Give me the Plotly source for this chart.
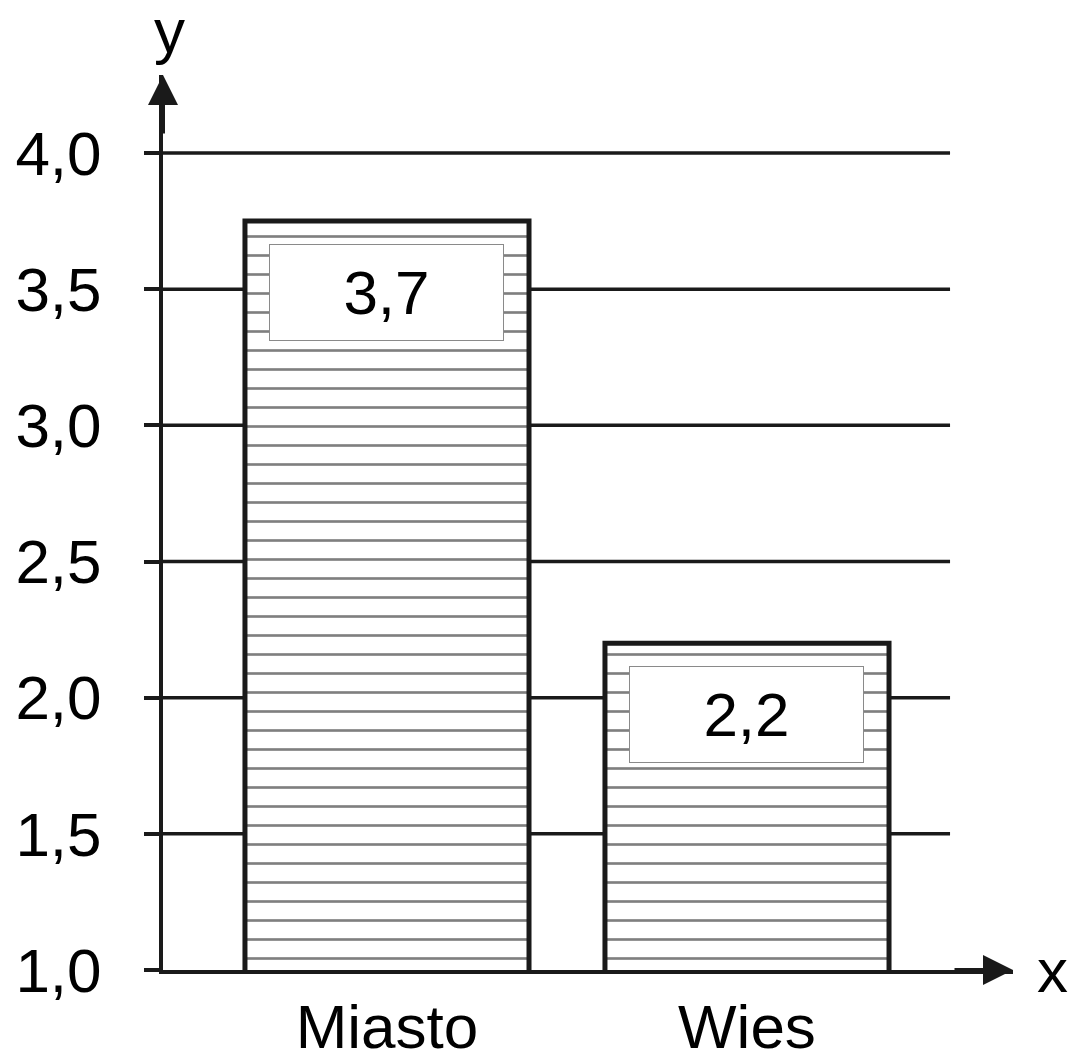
import plotly.graph_objects as go

categories = ["Miasto", "Wies"]
values = [3.75, 2.2]
value_labels = ["3,7", "2,2"]
y_ticks = [1.0, 1.5, 2.0, 2.5, 3.0, 3.5, 4.0]

FONT = "Liberation Sans, Arial, sans-serif"
FS = 62
W, H = 1072, 1056
L, R, T, B = 163, 1072 - 1013, 75, 1056 - 970

fig = go.Figure()
fig.add_trace(go.Bar(
    x=categories, y=values, width=0.789,
    marker=dict(color="white", line=dict(color="#1a1a1a", width=5),
                pattern=dict(shape="-", fgcolor="black", bgcolor="white",
                             size=19, solidity=0.14)),
    showlegend=False, hoverinfo="skip",
))

# horizontal grid lines (end before arrow)
shapes = []
for t in y_ticks[1:]:
    shapes.append(dict(type="line", xref="x", yref="y", x0=-0.6222, x1=1.564,
                       y0=t, y1=t, line=dict(color="#1a1a1a", width=3.5), layer="below"))

annotations = []
for c, v, lab in zip(categories, values, value_labels):
    annotations.append(dict(x=c, y=v, xref="x", yref="y", text=lab, showarrow=False,
                            yanchor="top", xanchor="center", yshift=-23,
                            width=233, height=95, bgcolor="white", bordercolor="#8a8a8a",
                            borderwidth=1, borderpad=0, valign="middle",
                            font=dict(family=FONT, size=FS, color="black")))

# arrowheads
annotations.append(dict(x=1.0, y=0, xref="paper", yref="paper", ax=-60, ay=0, text="",
                        showarrow=True, arrowhead=2, arrowwidth=4, arrowsize=1.5,
                        arrowcolor="#1a1a1a", standoff=0))
annotations.append(dict(x=0, y=1.0, xref="paper", yref="paper", ax=0, ay=60, text="",
                        showarrow=True, arrowhead=2, arrowwidth=4, arrowsize=1.5,
                        arrowcolor="#1a1a1a", standoff=0))
annotations.append(dict(x=0.008, y=1.05, xref="paper", yref="paper", text="y", showarrow=False,
                        xanchor="center", yanchor="middle",
                        font=dict(family=FONT, size=FS, color="black")))
annotations.append(dict(x=1.047, y=0.0, xref="paper", yref="paper", text="x", showarrow=False,
                        xanchor="center", yanchor="middle",
                        font=dict(family=FONT, size=FS, color="black")))

fig.update_layout(
    width=W, height=H, margin=dict(l=L, r=R, t=T, b=B),
    paper_bgcolor="white", plot_bgcolor="white",
    separators=",.",
    shapes=shapes, annotations=annotations,
    xaxis=dict(type="category", range=[-0.6222, 1.7389], showgrid=False, zeroline=False,
               showline=True, linecolor="#1a1a1a", linewidth=4, ticks="",
               ticklabelstandoff=0, automargin=False,
               tickfont=dict(family=FONT, size=FS, color="black")),
    yaxis=dict(range=[1.0, 4.2865], tickvals=y_ticks, tickformat=".1f", showgrid=False,
               zeroline=False, showline=True, linecolor="#1a1a1a", linewidth=4,
               ticks="outside", ticklen=15, tickwidth=3.5, tickcolor="#1a1a1a",
               ticklabelstandoff=30, automargin=False,
               tickfont=dict(family=FONT, size=FS, color="black")),
)

fig.write_html("out.html", config={"displayModeBar": False},
               post_script="document.body.style.margin='0';document.body.style.overflow='hidden';")
